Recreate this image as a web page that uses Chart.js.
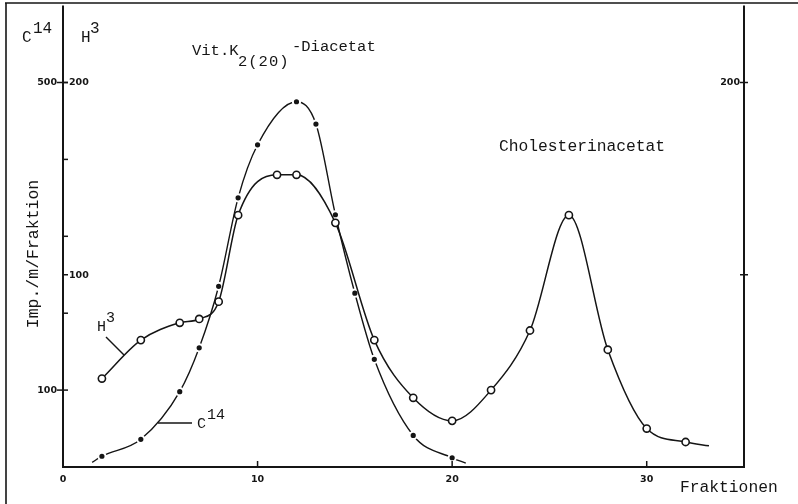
<!DOCTYPE html>
<html>
<head>
<meta charset="utf-8">
<script src="https://cdn.jsdelivr.net/npm/chart.js@4.4.1/dist/chart.umd.min.js"></script>
<style>
  html, body { margin: 0; padding: 0; background: #fff; }
  canvas { display: block; }
</style>
</head>
<body>
<canvas id="chromatogramm" width="798" height="504"></canvas>
<script>
// Messwerte je Fraktion (Imp./m/Fraktion)
const h3Fraktion = [2, 4, 6, 7, 8, 9, 11, 12, 14, 16, 18, 20, 22, 24, 26, 28, 30, 32];
const h3Werte = [46, 66, 75, 77, 86, 131, 152, 152, 127, 66, 36, 24, 40, 71, 131, 61, 20, 13];

const c14Fraktion = [2, 4, 6, 7, 8, 9, 10, 12, 13, 14, 15, 16, 18, 20];
const c14Werte = [14, 36, 98, 155, 235, 350, 419, 475, 446, 328, 226, 140, 41, 12];

// Kurvenenden ohne Messpunkt
const h3Auslauf = [[33.2, 11]];
const c14Anlauf = [[1.5, 6]];
const c14Auslauf = [[20.7, 5]];

// Achsenteilung
const xTicks = [0, 10, 20, 30];
const xBeschriftung = ["0", "10", "20", "30"];
const c14Ticks = [100, 200, 300, 400, 500];
const c14Beschriftet = [100, 500];
const h3Ticks = [100, 200];

const SCHWARZ = "#151515";
const MONO = "'Liberation Mono', 'DejaVu Sans Mono', monospace";
const ZIFFERN = "bold 9.5px 'DejaVu Sans', sans-serif";

function punkte(xs, ys, vorher, nachher) {
  const mess = xs.map((x, i) => ({ x: x, y: ys[i], m: true }));
  const a = vorher.map(([x, y]) => ({ x, y, m: false }));
  const b = nachher.map(([x, y]) => ({ x, y, m: false }));
  return [...a, ...mess, ...b];
}

function linie(ctx, x1, y1, x2, y2) {
  ctx.beginPath();
  ctx.moveTo(x1, y1);
  ctx.lineTo(x2, y2);
  ctx.stroke();
}

// Text mit Hochstellung (z.B. C14, H3)
function hoch(ctx, basis, exp, x, y, dx, dy) {
  ctx.fillText(basis, x, y);
  ctx.fillText(exp, x + dx, y - dy);
}

const papier = {
  id: "papier",
  afterDraw(chart) {
    const { ctx, chartArea: a, scales } = chart;
    const sx = scales.x, yH = scales.yH, yC = scales.yC;

    ctx.save();
    ctx.strokeStyle = SCHWARZ;
    ctx.fillStyle = SCHWARZ;

    // Blattrand
    ctx.lineWidth = 1.6;
    linie(ctx, 5, 3, 798, 3);
    linie(ctx, 6, 3, 6, 504);

    // Achsen
    ctx.lineWidth = 2;
    linie(ctx, a.left, a.top, a.left, a.bottom + 1);
    linie(ctx, a.right, a.top, a.right, a.bottom + 1);
    linie(ctx, a.left - 1, a.bottom, a.right + 1, a.bottom);

    // Teilstriche links (C14)
    ctx.lineWidth = 1.5;
    ctx.font = ZIFFERN;
    ctx.textBaseline = "middle";
    c14Ticks.forEach((v) => {
      const y = yC.getPixelForValue(v);
      const lab = c14Beschriftet.includes(v);
      linie(ctx, a.left - (lab ? 6 : 0), y, a.left + 5, y);
      if (lab) {
        ctx.textAlign = "right";
        ctx.fillText(String(v), a.left - 6, y);
      }
    });

    // Teilstriche H3, links und rechts
    h3Ticks.forEach((v) => {
      const y = yH.getPixelForValue(v);
      linie(ctx, a.left, y, a.left + 5, y);
      ctx.textAlign = "left";
      ctx.fillText(String(v), a.left + 6, y + 0.5);
      linie(ctx, a.right - 4, y, a.right + 4, y);
      if (v === 200) {
        ctx.textAlign = "right";
        ctx.fillText(String(v), a.right - 4, y);
      }
    });

    // x-Achse
    ctx.textAlign = "center";
    xTicks.forEach((v, i) => {
      const x = sx.getPixelForValue(v);
      if (v > 0) linie(ctx, x, a.bottom, x, a.bottom - 6);
      ctx.fillText(xBeschriftung[i], x, a.bottom + 13);
    });

    // Beschriftungen
    ctx.textAlign = "left";
    ctx.textBaseline = "alphabetic";
    ctx.font = "16px " + MONO;
    hoch(ctx, "C", "14", 22, 42, 11, 9);
    hoch(ctx, "H", "3", 81, 42, 9, 9);

    ctx.font = "15.5px " + MONO;
    ctx.fillText("Vit.K", 192, 55);
    ctx.letterSpacing = "1px";
    ctx.fillText("2(20)", 238, 66);
    ctx.letterSpacing = "0px";
    ctx.fillText("-Diacetat", 292, 51);

    ctx.font = "16.3px " + MONO;
    ctx.fillText("Cholesterinacetat", 499, 151);
    ctx.fillText("Fraktionen", 680, 492);

    ctx.font = "15px " + MONO;
    hoch(ctx, "H", "3", 97, 331, 9, 9);
    hoch(ctx, "C", "14", 197, 428, 10, 9);

    ctx.lineWidth = 1.4;
    linie(ctx, 106, 337, 124, 355);
    linie(ctx, 158, 423, 192, 423);

    // y-Titel
    ctx.save();
    ctx.translate(38, 254);
    ctx.rotate(-Math.PI / 2);
    ctx.textAlign = "center";
    ctx.font = "16.5px " + MONO;
    ctx.fillText("Imp./m/Fraktion", 0, 0);
    ctx.restore();

    ctx.restore();
  }
};

new Chart(document.getElementById("chromatogramm"), {
  type: "scatter",
  data: {
    datasets: [
      {
        label: "H3",
        data: punkte(h3Fraktion, h3Werte, [], h3Auslauf),
        yAxisID: "yH",
        showLine: true,
        borderColor: SCHWARZ,
        borderWidth: 1.5,
        cubicInterpolationMode: "monotone",
        pointRadius: (c) => (c.raw && c.raw.m ? 3.6 : 0),
        pointBackgroundColor: "#fff",
        pointBorderColor: SCHWARZ,
        pointBorderWidth: 1.6
      },
      {
        label: "C14",
        data: punkte(c14Fraktion, c14Werte, c14Anlauf, c14Auslauf),
        yAxisID: "yC",
        showLine: true,
        borderColor: SCHWARZ,
        borderWidth: 1.4,
        cubicInterpolationMode: "monotone",
        pointRadius: (c) => (c.raw && c.raw.m ? 3.6 : 0),
        pointBackgroundColor: SCHWARZ,
        pointBorderColor: "#fff",
        pointBorderWidth: 2
      }
    ]
  },
  options: {
    responsive: false,
    animation: false,
    devicePixelRatio: 1,
    layout: { padding: { left: 63, right: 54, top: 3, bottom: 37 } },
    plugins: { legend: { display: false }, tooltip: { enabled: false } },
    scales: {
      x: { type: "linear", min: 0, max: 35, display: false },
      yH: { type: "linear", min: 0, max: 240, display: false },
      yC: { type: "linear", min: 0, max: 600, display: false }
    }
  },
  plugins: [papier]
});
</script>
</body>
</html>
